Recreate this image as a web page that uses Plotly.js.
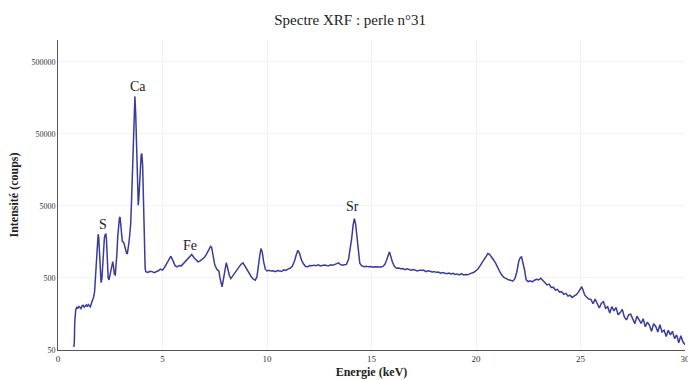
<!DOCTYPE html>
<html>
<head>
<meta charset="utf-8">
<script src="https://cdn.plot.ly/plotly-3.0.1.min.js"></script>
<style>
  html, body { margin: 0; padding: 0; background: #ffffff; }
  #chart { width: 688px; height: 380px; }
</style>
</head>
<body>
<div id="chart"></div>
<script>
// Spectrum, split into regions (energy in keV, counts)
const energyStart = [0.76, 0.78, 0.80, 0.82, 0.85, 0.9, 0.95, 1.0, 1.05, 1.1, 1.15, 1.2, 1.25, 1.3, 1.35, 1.4, 1.45, 1.5, 1.55, 1.6];
const countsStart = [55, 62, 120, 165, 182, 195, 190, 201, 197, 188, 205, 209, 196, 203, 211, 200, 214, 206, 199, 222];

const energyCa = [1.65, 1.7, 1.75, 1.8, 1.84, 1.88, 1.92, 1.95, 1.98, 2.02, 2.06, 2.1, 2.14, 2.18, 2.22, 2.26, 2.29, 2.32, 2.36, 2.4,
  2.44, 2.48, 2.53, 2.58, 2.62, 2.66, 2.7, 2.74, 2.78, 2.82, 2.86, 2.9, 2.94, 2.97, 3.0, 3.04, 3.08, 3.12, 3.16, 3.2,
  3.24, 3.28, 3.32, 3.36, 3.4, 3.44, 3.48, 3.52, 3.56, 3.6, 3.64, 3.68, 3.72, 3.76, 3.8, 3.84, 3.87, 3.9, 3.94, 3.98,
  4.01, 4.05, 4.09, 4.13, 4.17];
const countsCa = [240, 270, 320, 560, 1000, 1600, 2020, 1800, 1100, 600, 430, 480, 750, 1300, 1800, 2000, 2020, 1700, 900, 500,
  470, 540, 680, 800, 840, 700, 560, 550, 700, 1100, 1900, 2800, 3400, 3500, 3000, 2100, 1600, 1580, 1500, 1350,
  1200, 1100, 1090, 1250, 1600, 2100, 2900, 6000, 13300, 34600, 105000, 165000, 90000, 29500, 9650, 5100, 6500, 11000, 20000, 25500,
  26500, 18000, 6000, 1700, 680];

const energyFe = [4.2, 4.3, 4.4, 4.5, 4.6, 4.7, 4.8, 4.9, 5.0, 5.1, 5.2, 5.3, 5.4, 5.5, 5.6, 5.7, 5.8, 5.9, 6.0, 6.1,
  6.2, 6.3, 6.4, 6.5, 6.6, 6.7, 6.8, 6.9, 7.0, 7.1, 7.2, 7.3, 7.35, 7.4, 7.5, 7.6, 7.7, 7.75, 7.8, 7.85,
  7.9, 7.95, 8.0, 8.05, 8.1, 8.15, 8.2, 8.27, 8.35, 8.45, 8.55, 8.65, 8.75, 8.85, 8.95, 9.05, 9.15, 9.25, 9.35, 9.44,
  9.52, 9.6, 9.65, 9.71, 9.77, 9.84, 9.92, 10.0];
const countsFe = [610, 596, 618, 612, 590, 605, 628, 662, 641, 700, 800, 900, 1000, 870, 740, 710, 745, 735, 790, 840,
  900, 990, 1060, 960, 880, 835, 860, 910, 960, 1060, 1210, 1370, 1330, 1120, 760, 660, 620, 500, 400, 375,
  450, 580, 740, 810, 720, 610, 540, 490, 530, 590, 640, 700, 770, 810, 720, 650, 570, 520, 480, 466,
  520, 713, 1000, 1280, 1150, 836, 660, 625];

const energySr = [10.1, 10.2, 10.3, 10.4, 10.5, 10.6, 10.7, 10.8, 10.9, 11.0, 11.1, 11.2, 11.3, 11.4, 11.48, 11.56, 11.65, 11.75, 11.85, 11.95,
  12.05, 12.15, 12.25, 12.35, 12.45, 12.55, 12.65, 12.75, 12.85, 12.95, 13.05, 13.15, 13.25, 13.35, 13.43, 13.5, 13.6, 13.7, 13.8, 13.9,
  13.98, 14.05, 14.12, 14.18, 14.24, 14.31, 14.38, 14.44, 14.52, 14.63, 14.75, 14.85, 14.95, 15.05, 15.15, 15.25, 15.35, 15.45, 15.55, 15.65,
  15.72, 15.8, 15.86, 15.92, 16.0, 16.1, 16.2];
const countsSr = [640, 622, 628, 610, 631, 626, 614, 648, 637, 662, 680, 720, 830, 1050, 1210, 1090, 880, 780, 720, 715,
  745, 738, 752, 741, 760, 733, 748, 757, 742, 736, 761, 749, 770, 795, 810, 770, 750, 760, 770, 900,
  1200, 1750, 2700, 3330, 2800, 1860, 1150, 800, 740, 715, 725, 712, 718, 702, 716, 709, 698, 708, 722, 780,
  880, 1080, 1150, 1000, 830, 720, 680];

const energyHigh = [16.3, 16.4, 16.5, 16.6, 16.7, 16.8, 16.9, 17.0, 17.1, 17.2, 17.3, 17.4, 17.5, 17.6, 17.7, 17.8, 17.9, 18.0, 18.1, 18.2,
  18.3, 18.4, 18.5, 18.6, 18.7, 18.8, 18.9, 19.0, 19.1, 19.2, 19.3, 19.4, 19.5, 19.6, 19.7, 19.8, 19.9, 20.0, 20.1, 20.2,
  20.3, 20.4, 20.5, 20.57, 20.65, 20.75, 20.85, 20.95, 21.05, 21.15, 21.25, 21.35, 21.45, 21.55, 21.65, 21.75, 21.85, 21.95, 22.05, 22.12,
  22.18, 22.25, 22.32, 22.4, 22.5, 22.6, 22.7, 22.8, 22.9, 23.0, 23.1, 23.2, 23.3, 23.4, 23.5, 23.6, 23.7, 23.8, 23.9, 24.0,
  24.1, 24.2, 24.3, 24.4, 24.5, 24.6, 24.7, 24.8, 24.9, 25.0, 25.06, 25.12, 25.2, 25.3, 25.4];
const countsHigh = [688, 671, 676, 652, 668, 661, 639, 655, 648, 626, 641, 633, 637, 612, 628, 618, 605, 611, 598, 604,
  582, 596, 589, 571, 583, 566, 579, 560, 568, 551, 572, 549, 558, 552, 570, 580, 600, 630, 670, 740,
  820, 920, 1040, 1090, 1060, 980, 880, 790, 680, 600, 540, 505, 490, 470, 465, 450, 480, 600, 860, 960,
  980, 820, 650, 470, 445, 455, 440, 465, 480, 470, 495, 460, 435, 400, 410, 370, 372, 340, 348, 318,
  322, 296, 305, 280, 288, 268, 282, 292, 318, 360, 377, 340, 290, 270, 255];

const energyTail = [25.5, 25.6, 25.7, 25.8, 25.9, 26.0, 26.1, 26.2, 26.3, 26.4, 26.5, 26.6, 26.7, 26.8, 26.9, 27.0, 27.1, 27.2, 27.3, 27.4,
  27.5, 27.6, 27.7, 27.8, 27.9, 28.0, 28.1, 28.2, 28.3, 28.4, 28.5, 28.6, 28.7, 28.8, 28.9, 29.0, 29.1, 29.2, 29.3, 29.4,
  29.5, 29.6, 29.7, 29.8, 29.9, 30.0];
const countsTail = [252, 219, 254, 220, 191, 223, 234, 190, 199, 163, 200, 175, 195, 154, 165, 183, 143, 131, 154, 157,
  134, 116, 147, 132, 117, 136, 105, 122, 110, 91, 116, 106, 89, 112, 89, 94, 77, 94, 81, 91,
  72, 81, 63, 79, 65, 59];

// Peak labels
const labelText = ['S', 'Ca', 'Fe', 'Sr'];
const labelEnergy = [2.16, 3.83, 6.32, 14.09];
const labelCounts = [2780, 227000, 1420, 4930];

// Axis ticks
const xTicks = [0, 5, 10, 15, 20, 25, 30];
const yTicks = [50, 500, 5000, 50000, 500000];
const yTickText = ['50', '500', '5000', '50000', '500000'];

const energy = [].concat(energyStart, energyCa, energyFe, energySr, energyHigh, energyTail);
const counts = [].concat(countsStart, countsCa, countsFe, countsSr, countsHigh, countsTail);

const serif = 'Liberation Serif, Times New Roman, serif';

const trace = {
  x: energy,
  y: counts,
  type: 'scatter',
  mode: 'lines',
  line: { color: '#3b3b9e', width: 1.5 },
  hoverinfo: 'skip'
};

const annotations = labelText.map((t, i) => ({
  x: labelEnergy[i],
  y: Math.log10(labelCounts[i]),
  xref: 'x', yref: 'y',
  text: t,
  showarrow: false,
  font: { family: serif, size: 14, color: '#222222' }
}));

const layout = {
  width: 688,
  height: 380,
  margin: { l: 58, r: 3, t: 40, b: 30 },
  paper_bgcolor: '#ffffff',
  plot_bgcolor: '#ffffff',
  showlegend: false,
  title: {
    text: 'Spectre XRF : perle n°31',
    font: { family: serif, size: 15, color: '#222222' },
    xref: 'container', x: 0.509, xanchor: 'center',
    yref: 'container', y: 0.947, yanchor: 'middle'
  },
  xaxis: {
    range: [0, 30],
    tickvals: xTicks,
    ticktext: xTicks.map(String),
    ticklabeloverflow: 'allow',
    showline: true, linecolor: '#555555', linewidth: 1,
    showgrid: true, gridcolor: '#f2f2f2',
    zeroline: false,
    ticks: '',
    tickfont: { family: serif, size: 9, color: '#333333' },
    title: { text: '<b>Energie (keV)</b>', font: { family: serif, size: 12, color: '#222222' }, standoff: 4 }
  },
  yaxis: {
    type: 'log',
    range: [Math.log10(50), 6],
    tickvals: yTicks,
    ticktext: yTickText,
    showline: true, linecolor: '#555555', linewidth: 1,
    showgrid: true, gridcolor: '#f2f2f2',
    zeroline: false,
    ticks: '',
    tickfont: { family: serif, size: 8, color: '#333333' },
    title: { text: '<b>Intensité (coups)</b>', font: { family: serif, size: 12, color: '#222222' }, standoff: 10 }
  },
  annotations: annotations
};

Plotly.newPlot('chart', [trace], layout, { displayModeBar: false, staticPlot: true });
</script>
</body>
</html>
